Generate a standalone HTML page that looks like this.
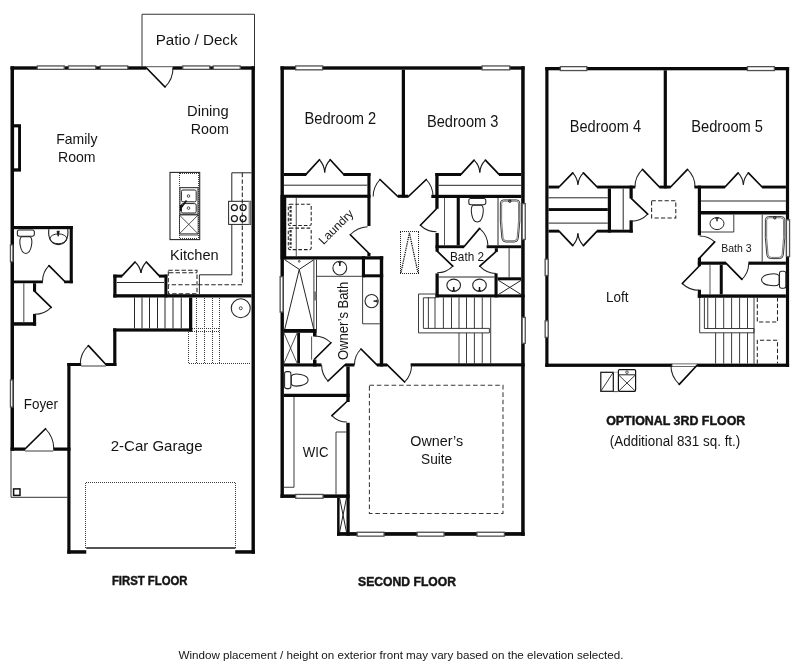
<!DOCTYPE html>
<html lang="en"><head><meta charset="utf-8"><title>Floor Plan</title>
<style>
html,body{margin:0;padding:0;background:#fff;}
body{width:800px;height:672px;overflow:hidden;font-family:"Liberation Sans",sans-serif;}
svg{display:block;will-change:transform;}
svg text{font-family:"Liberation Sans",sans-serif;}
</style></head><body>
<svg width="800" height="672" viewBox="0 0 800 672">
<rect width="800" height="672" fill="#fff"/>
<g id="first-floor">
<path d="M142 66.3V14.25H254.5V66.3" stroke="#333" stroke-width="1" fill="none"/>
<rect x="10.5" y="66.3" width="3.5" height="384.45" fill="#0a0a0a"/>
<rect x="10.5" y="66.3" width="26.5" height="3.4" fill="#0a0a0a"/>
<rect x="64.5" y="66.3" width="3.75" height="3.4" fill="#0a0a0a"/>
<rect x="96" y="66.3" width="4" height="3.4" fill="#0a0a0a"/>
<rect x="128" y="66.3" width="18.5" height="3.4" fill="#0a0a0a"/>
<rect x="172.5" y="66.3" width="10" height="3.4" fill="#0a0a0a"/>
<rect x="210" y="66.3" width="3" height="3.4" fill="#0a0a0a"/>
<rect x="240.5" y="66.3" width="14.5" height="3.4" fill="#0a0a0a"/>
<rect x="37.25" y="65.95" width="27" height="3.4" fill="#fff" stroke="#505050" stroke-width="1.3"/>
<rect x="68.5" y="65.95" width="27.25" height="3.4" fill="#fff" stroke="#505050" stroke-width="1.3"/>
<rect x="100.25" y="65.95" width="27.5" height="3.4" fill="#fff" stroke="#505050" stroke-width="1.3"/>
<rect x="182.75" y="65.95" width="27" height="3.4" fill="#fff" stroke="#505050" stroke-width="1.3"/>
<rect x="213.25" y="65.95" width="27" height="3.4" fill="#fff" stroke="#505050" stroke-width="1.3"/>
<rect x="251.5" y="66.3" width="3.4" height="487.4" fill="#0a0a0a"/>
<line x1="146.5" y1="66.7" x2="172.5" y2="66.7" stroke="#262626" stroke-width="0.8"/>
<path d="M165 87A26.52 26.52 0 0 0 173.02 68.00" stroke="#222" stroke-width="1.05" fill="none"/>
<line x1="146.5" y1="68" x2="165" y2="87" stroke="#0a0a0a" stroke-width="1.7" stroke-linecap="round"/>
<rect x="14" y="124.2" width="7" height="47.4" fill="#0a0a0a"/>
<rect x="14.1" y="127.4" width="4" height="40.9" fill="#fff"/>
<rect x="14" y="226" width="58.8" height="3.2" fill="#0a0a0a"/>
<rect x="69.7" y="226" width="3.1" height="57.25" fill="#0a0a0a"/>
<rect x="64.1" y="280.5" width="8.7" height="2.75" fill="#0a0a0a"/>
<rect x="14" y="280.5" width="28.9" height="2.75" fill="#0a0a0a"/>
<rect x="33" y="283.25" width="3.1" height="8.35" fill="#0a0a0a"/>
<rect x="33" y="313.9" width="3.1" height="11.8" fill="#0a0a0a"/>
<rect x="14" y="322.2" width="22.1" height="3.5" fill="#0a0a0a"/>
<line x1="23.8" y1="283.25" x2="23.8" y2="322.2" stroke="#555" stroke-width="1.1"/>
<rect x="10.45" y="244.95" width="2.5" height="16.8" fill="#fff" stroke="#505050" stroke-width="1.3"/>
<rect x="10.45" y="379.95" width="2.5" height="27.1" fill="#fff" stroke="#505050" stroke-width="1.3"/>
<path d="M49 265.6A21.71 21.71 0 0 0 42.59 281.00" stroke="#222" stroke-width="1.05" fill="none"/>
<line x1="64.3" y1="281" x2="49" y2="265.6" stroke="#0a0a0a" stroke-width="1.7" stroke-linecap="round"/>
<path d="M51.2 307.3A22.84 22.84 0 0 1 34.80 314.24" stroke="#222" stroke-width="1.05" fill="none"/>
<line x1="34.8" y1="291.4" x2="51.2" y2="307.3" stroke="#0a0a0a" stroke-width="1.7" stroke-linecap="round"/>
<g transform="translate(25.85 236.2) rotate(90)" fill="#fff" stroke="#222" stroke-width="1.05"><path d="M0.4 -4.3C3.10 -7.54 17.20 -5.80 17.2 0C17.20 5.80 3.10 7.54 0.4 4.3Z"/><rect x="-6.3" y="-8.5" width="6.3" height="17" rx="2"/></g>
<path d="M48.9 229.2C47.4 238 52 244.6 58.3 244.6C64.6 244.6 69.2 238 67.7 229.2" stroke="#262626" stroke-width="1.15" fill="none"/>
<ellipse cx="58.35" cy="238.8" rx="8.5" ry="4.9" stroke="#262626" stroke-width="1" fill="none"/>
<path d="M57 231.2H59.3L58.15 236.3Z" stroke="#111" stroke-width="0.8" fill="#111"/>
<rect x="113.3" y="274.6" width="8.9" height="3" fill="#0a0a0a"/>
<rect x="159" y="274.6" width="8.4" height="3" fill="#0a0a0a"/>
<rect x="113.3" y="274.6" width="3.2" height="22.9" fill="#0a0a0a"/>
<rect x="164.4" y="274.6" width="3" height="22.9" fill="#0a0a0a"/>
<rect x="113.3" y="294.2" width="138.3" height="3.3" fill="#0a0a0a"/>
<line x1="116.9" y1="282.5" x2="164" y2="282.5" stroke="#262626" stroke-width="1"/>
<line x1="122.3" y1="275.6" x2="135" y2="262" stroke="#0a0a0a" stroke-width="1.7" stroke-linecap="round"/>
<line x1="159" y1="275.6" x2="146.4" y2="262" stroke="#0a0a0a" stroke-width="1.7" stroke-linecap="round"/>
<path d="M135 262A18.61 18.61 0 0 1 141 273" stroke="#1a1a1a" stroke-width="1.15" fill="none"/>
<path d="M146.4 262A18.61 18.61 0 0 0 141 273" stroke="#1a1a1a" stroke-width="1.15" fill="none"/>
<line x1="134.5" y1="297.5" x2="134.5" y2="328.4" stroke="#262626" stroke-width="1"/>
<line x1="142" y1="297.5" x2="142" y2="328.4" stroke="#262626" stroke-width="1"/>
<line x1="149.5" y1="297.5" x2="149.5" y2="328.4" stroke="#262626" stroke-width="1"/>
<line x1="157.5" y1="297.5" x2="157.5" y2="328.4" stroke="#262626" stroke-width="1"/>
<line x1="165" y1="297.5" x2="165" y2="328.4" stroke="#262626" stroke-width="1"/>
<line x1="173" y1="297.5" x2="173" y2="328.4" stroke="#262626" stroke-width="1"/>
<line x1="181.25" y1="297.5" x2="181.25" y2="328.4" stroke="#262626" stroke-width="1"/>
<rect x="189" y="297.5" width="3.25" height="34.1" fill="#0a0a0a"/>
<rect x="113.2" y="328.4" width="79.05" height="3.2" fill="#0a0a0a"/>
<rect x="113.2" y="328.4" width="3.2" height="37.6" fill="#0a0a0a"/>
<rect x="67.3" y="363" width="13.9" height="3" fill="#0a0a0a"/>
<rect x="105.9" y="363" width="10.5" height="3" fill="#0a0a0a"/>
<rect x="67.3" y="363" width="3.2" height="190.7" fill="#0a0a0a"/>
<rect x="67.3" y="550.2" width="18.95" height="3.5" fill="#0a0a0a"/>
<rect x="235.2" y="550.2" width="19.7" height="3.5" fill="#0a0a0a"/>
<line x1="81.2" y1="366" x2="105.9" y2="366" stroke="#262626" stroke-width="0.9"/>
<path d="M88.4 345.7A25.68 25.68 0 0 0 80.22 364.50" stroke="#222" stroke-width="1.05" fill="none"/>
<line x1="105.9" y1="364.5" x2="88.4" y2="345.7" stroke="#0a0a0a" stroke-width="1.7" stroke-linecap="round"/>
<line x1="196.5" y1="298" x2="196.5" y2="363" stroke="#3a3a3a" stroke-width="1" stroke-dasharray="1 1"/>
<line x1="204.5" y1="298" x2="204.5" y2="363" stroke="#3a3a3a" stroke-width="1" stroke-dasharray="1 1"/>
<line x1="212.5" y1="298" x2="212.5" y2="363" stroke="#3a3a3a" stroke-width="1" stroke-dasharray="1 1"/>
<line x1="219.5" y1="298" x2="219.5" y2="363" stroke="#3a3a3a" stroke-width="1" stroke-dasharray="1 1"/>
<path d="M188.5 332V363.5H251" stroke="#3a3a3a" stroke-width="1" fill="none" stroke-dasharray="1 1"/>
<line x1="192" y1="328.5" x2="220" y2="328.5" stroke="#3a3a3a" stroke-width="1" stroke-dasharray="1 1"/>
<line x1="192" y1="331.5" x2="220" y2="331.5" stroke="#3a3a3a" stroke-width="1" stroke-dasharray="1 1"/>
<ellipse cx="240.75" cy="308.25" rx="9.5" ry="9.5" stroke="#262626" stroke-width="1.1" fill="none"/>
<ellipse cx="240.75" cy="308.25" rx="1.5" ry="1.5" stroke="#262626" stroke-width="0.8" fill="none"/>
<rect x="10.5" y="447.5" width="14.5" height="3.25" fill="#0a0a0a"/>
<rect x="53.25" y="447.5" width="17.25" height="3.25" fill="#0a0a0a"/>
<path d="M45.5 428.75A28.82 28.82 0 0 1 53.82 449.00" stroke="#222" stroke-width="1.05" fill="none"/>
<line x1="25" y1="449" x2="45.5" y2="428.75" stroke="#0a0a0a" stroke-width="1.7" stroke-linecap="round"/>
<line x1="25" y1="451" x2="53.25" y2="451" stroke="#262626" stroke-width="0.9"/>
<path d="M11 450.75V497.3H67.5" stroke="#333" stroke-width="1" fill="none"/>
<rect x="13.6" y="488.9" width="6.4" height="6.5" stroke="#111" stroke-width="1.5" fill="none"/>
<path d="M85.5 548V482.5H235.5V548" stroke="#3a3a3a" stroke-width="1" fill="none" stroke-dasharray="1 1"/>
<rect x="86.25" y="547.3" width="149.15" height="1.4" fill="#0a0a0a"/>
<rect x="170" y="172.4" width="29.7" height="67.2" stroke="#262626" stroke-width="1.1" fill="none"/>
<line x1="179.5" y1="173" x2="179.5" y2="239" stroke="#3a3a3a" stroke-width="1" stroke-dasharray="1 1"/>
<line x1="198.5" y1="173" x2="198.5" y2="239" stroke="#3a3a3a" stroke-width="1" stroke-dasharray="1 1"/>
<line x1="180" y1="173.5" x2="198" y2="173.5" stroke="#3a3a3a" stroke-width="1" stroke-dasharray="1 1"/>
<line x1="180" y1="238.5" x2="198" y2="238.5" stroke="#3a3a3a" stroke-width="1" stroke-dasharray="1 1"/>
<rect x="179.9" y="187.6" width="18.1" height="26.7" stroke="#444" stroke-width="1.2" fill="none"/>
<rect x="181.4" y="190" width="14.8" height="11.8" stroke="#262626" stroke-width="1" fill="none" rx="1.5"/>
<rect x="181.4" y="203.6" width="14.8" height="9.4" stroke="#262626" stroke-width="1" fill="none" rx="1.5"/>
<ellipse cx="188.5" cy="196" rx="1.3" ry="1.3" stroke="#262626" stroke-width="0.8" fill="none"/>
<ellipse cx="188.5" cy="208.1" rx="1.3" ry="1.3" stroke="#262626" stroke-width="0.8" fill="none"/>
<line x1="181.3" y1="207.5" x2="186.5" y2="200.6" stroke="#111" stroke-width="1.6"/>
<line x1="180.8" y1="205" x2="180.8" y2="211" stroke="#111" stroke-width="1.8"/>
<rect x="179.4" y="215" width="18.7" height="18.8" stroke="#262626" stroke-width="0.8" fill="none"/>
<line x1="179.4" y1="215" x2="198.1" y2="233.8" stroke="#262626" stroke-width="0.8"/>
<line x1="198.1" y1="215" x2="179.4" y2="233.8" stroke="#262626" stroke-width="0.8"/>
<line x1="179.4" y1="235" x2="198.1" y2="235" stroke="#262626" stroke-width="0.8"/>
<path d="M251.6 172.8H231.8V274.8H199.4V294.25" stroke="#262626" stroke-width="1" fill="none"/>
<rect x="228.6" y="201.3" width="22" height="23.1" stroke="#262626" stroke-width="1" fill="#fff"/>
<rect x="248.6" y="201.3" width="2" height="23.1" fill="#999"/>
<ellipse cx="234.4" cy="207.5" rx="3" ry="3" stroke="#1a1a1a" stroke-width="1.25" fill="none"/>
<ellipse cx="234.4" cy="218.5" rx="3" ry="3" stroke="#1a1a1a" stroke-width="1.25" fill="none"/>
<ellipse cx="243.1" cy="207.5" rx="3" ry="3" stroke="#1a1a1a" stroke-width="1.25" fill="none"/>
<ellipse cx="243.1" cy="218.5" rx="3" ry="3" stroke="#1a1a1a" stroke-width="1.25" fill="none"/>
<path d="M242.3 172.8V284.8H168.3" stroke="#222" stroke-width="1.05" fill="none" stroke-dasharray="4.4 2.2"/>
<rect x="168.3" y="270.3" width="28.7" height="23.5" stroke="#222" stroke-width="1.05" fill="none" stroke-dasharray="4.4 2.2"/>
<line x1="169" y1="272.8" x2="197" y2="272.8" stroke="#222" stroke-width="1.05" stroke-dasharray="4.4 2.2"/>
</g>
<text x="155.75" y="45" font-size="15.3" textLength="81.75" lengthAdjust="spacingAndGlyphs" fill="#141414">Patio / Deck</text>
<text x="56.2" y="143.6" font-size="15" textLength="41.3" lengthAdjust="spacingAndGlyphs" fill="#141414">Family</text>
<text x="58" y="161.5" font-size="15" textLength="37.6" lengthAdjust="spacingAndGlyphs" fill="#141414">Room</text>
<text x="187" y="116.25" font-size="15" textLength="41.75" lengthAdjust="spacingAndGlyphs" fill="#141414">Dining</text>
<text x="190.75" y="134.25" font-size="15" textLength="38" lengthAdjust="spacingAndGlyphs" fill="#141414">Room</text>
<text x="170" y="259.5" font-size="15" textLength="48.75" lengthAdjust="spacingAndGlyphs" fill="#141414">Kitchen</text>
<text x="23.75" y="409.25" font-size="15" textLength="34.25" lengthAdjust="spacingAndGlyphs" fill="#141414">Foyer</text>
<text x="110.75" y="450.75" font-size="15" textLength="91.75" lengthAdjust="spacingAndGlyphs" fill="#141414">2-Car Garage</text>
<text x="111.9" y="585.4" font-size="12.4" textLength="75.6" lengthAdjust="spacingAndGlyphs" font-weight="700" stroke="#141414" stroke-width="0.45" fill="#141414">FIRST FLOOR</text>
<g id="second-floor">
<rect x="280.5" y="66.3" width="3.4" height="431.6" fill="#0a0a0a"/>
<rect x="280.5" y="195" width="5.75" height="64.4" fill="#0a0a0a"/>
<rect x="280.5" y="66.3" width="244.1" height="3.4" fill="#0a0a0a"/>
<rect x="295.65" y="65.95" width="26.9" height="3.9" fill="#fff" stroke="#505050" stroke-width="1.3"/>
<rect x="482.05" y="65.95" width="27.7" height="3.9" fill="#fff" stroke="#505050" stroke-width="1.3"/>
<rect x="521.2" y="66.3" width="3.5" height="469.5" fill="#0a0a0a"/>
<rect x="337.1" y="532.1" width="187.6" height="3.7" fill="#0a0a0a"/>
<rect x="357.15" y="532.25" width="26.9" height="3.9" fill="#fff" stroke="#505050" stroke-width="1.3"/>
<rect x="417.15" y="532.25" width="26.9" height="3.9" fill="#fff" stroke="#505050" stroke-width="1.3"/>
<rect x="476.95" y="532.25" width="27.45" height="3.9" fill="#fff" stroke="#505050" stroke-width="1.3"/>
<rect x="280.5" y="494.4" width="69.2" height="3.5" fill="#0a0a0a"/>
<rect x="295.65" y="494.45" width="27.4" height="3.8" fill="#fff" stroke="#505050" stroke-width="1.3"/>
<rect x="337.1" y="497.9" width="2.5" height="37.9" fill="#0a0a0a"/>
<rect x="346.5" y="497.9" width="3.2" height="37.9" fill="#0a0a0a"/>
<line x1="339.6" y1="497.9" x2="346.5" y2="532.2" stroke="#222" stroke-width="1"/>
<line x1="346.5" y1="497.9" x2="339.6" y2="532.2" stroke="#222" stroke-width="1"/>
<rect x="401.75" y="69.7" width="3.25" height="127.8" fill="#0a0a0a"/>
<rect x="398" y="194.7" width="10.25" height="3.1" fill="#0a0a0a"/>
<rect x="283.9" y="173" width="22.35" height="3" fill="#0a0a0a"/>
<rect x="343.4" y="173" width="27.1" height="3" fill="#0a0a0a"/>
<rect x="367.4" y="173" width="3.1" height="53" fill="#0a0a0a"/>
<rect x="283.9" y="194.7" width="86.6" height="3.1" fill="#0a0a0a"/>
<line x1="283.9" y1="185.2" x2="367.4" y2="185.2" stroke="#262626" stroke-width="1"/>
<line x1="306" y1="174.3" x2="319.4" y2="159.75" stroke="#0a0a0a" stroke-width="1.7" stroke-linecap="round"/>
<line x1="343.6" y1="174.3" x2="330.25" y2="159.75" stroke="#0a0a0a" stroke-width="1.7" stroke-linecap="round"/>
<path d="M319.4 159.75A19.78 19.78 0 0 1 324.7 172.5" stroke="#1a1a1a" stroke-width="1.15" fill="none"/>
<path d="M330.25 159.75A19.78 19.78 0 0 0 324.7 172.5" stroke="#1a1a1a" stroke-width="1.15" fill="none"/>
<path d="M380 179.5A24.61 24.61 0 0 0 373.19 196.50" stroke="#222" stroke-width="1.05" fill="none"/>
<line x1="397.8" y1="196.5" x2="380" y2="179.5" stroke="#0a0a0a" stroke-width="1.7" stroke-linecap="round"/>
<path d="M426.25 179.5A24.65 24.65 0 0 1 433.05 196.50" stroke="#222" stroke-width="1.05" fill="none"/>
<line x1="408.4" y1="196.5" x2="426.25" y2="179.5" stroke="#0a0a0a" stroke-width="1.7" stroke-linecap="round"/>
<rect x="367.4" y="253" width="3.1" height="3.25" fill="#0a0a0a"/>
<rect x="283.9" y="256.25" width="99.3" height="3.25" fill="#0a0a0a"/>
<line x1="296.25" y1="197.8" x2="296.25" y2="256.25" stroke="#262626" stroke-width="0.8"/>
<rect x="288.3" y="204.2" width="22.9" height="21.4" stroke="#222" stroke-width="1.05" fill="none" stroke-dasharray="3.6 2" rx="1.5"/>
<rect x="288.3" y="228.1" width="22.9" height="21.5" stroke="#222" stroke-width="1.05" fill="none" stroke-dasharray="3.6 2" rx="1.5"/>
<line x1="290.6" y1="206" x2="290.6" y2="224" stroke="#333" stroke-width="2.2" stroke-dasharray="2.5 1.6"/>
<line x1="290.6" y1="230" x2="290.6" y2="248" stroke="#333" stroke-width="2.2" stroke-dasharray="2.5 1.6"/>
<path d="M350.25 234.75A26.98 26.98 0 0 1 367.54 226.84" stroke="#222" stroke-width="1.05" fill="none"/>
<line x1="369.4" y1="253.75" x2="350.25" y2="234.75" stroke="#0a0a0a" stroke-width="1.7" stroke-linecap="round"/>
<rect x="361.9" y="256.25" width="3.1" height="21.05" fill="#0a0a0a"/>
<rect x="361.9" y="274.3" width="21.3" height="3" fill="#0a0a0a"/>
<rect x="379.8" y="256.25" width="3.4" height="110.25" fill="#0a0a0a"/>
<path d="M284.8 259.8L299.25 269.4L313.7 259.8" stroke="#262626" stroke-width="1" fill="none"/>
<path d="M284.8 329L299.25 269.4L313.7 329" stroke="#262626" stroke-width="1" fill="none"/>
<ellipse cx="299.25" cy="261.3" rx="0.9" ry="0.9" stroke="#262626" stroke-width="0.8" fill="none"/>
<line x1="313.9" y1="259.5" x2="313.9" y2="329" stroke="#262626" stroke-width="0.9"/>
<line x1="316.5" y1="259.5" x2="316.5" y2="329" stroke="#262626" stroke-width="0.9"/>
<rect x="313.9" y="291.5" width="2.6" height="8.9" fill="#777"/>
<rect x="280.15" y="276.65" width="2.9" height="35.4" fill="#fff" stroke="#505050" stroke-width="1.3"/>
<line x1="316.5" y1="276.3" x2="361.9" y2="276.3" stroke="#262626" stroke-width="0.9"/>
<ellipse cx="339.8" cy="268.1" rx="6.9" ry="6.9" stroke="#262626" stroke-width="1.1" fill="none"/>
<line x1="339.8" y1="262.3" x2="339.8" y2="266" stroke="#111" stroke-width="1.5"/>
<line x1="338.3" y1="262.6" x2="341.3" y2="262.6" stroke="#111" stroke-width="1"/>
<path d="M362.6 277.3V323.8H379.8" stroke="#262626" stroke-width="0.9" fill="none"/>
<ellipse cx="371.6" cy="301.1" rx="6.6" ry="6.6" stroke="#262626" stroke-width="1.1" fill="none"/>
<line x1="377.2" y1="301.1" x2="373.6" y2="301.1" stroke="#111" stroke-width="1.5"/>
<line x1="377" y1="299.6" x2="377" y2="302.6" stroke="#111" stroke-width="1"/>
<rect x="283.9" y="329" width="32.6" height="3.8" fill="#0a0a0a"/>
<rect x="297.2" y="332.8" width="2.8" height="30.6" fill="#0a0a0a"/>
<rect x="313" y="329" width="3.5" height="7.5" fill="#0a0a0a"/>
<rect x="313" y="359.6" width="3.5" height="6.9" fill="#0a0a0a"/>
<line x1="283.9" y1="332.8" x2="297.2" y2="363.4" stroke="#262626" stroke-width="0.8"/>
<line x1="297.2" y1="332.8" x2="283.9" y2="363.4" stroke="#262626" stroke-width="0.8"/>
<line x1="311.6" y1="336.5" x2="311.6" y2="359.6" stroke="#262626" stroke-width="0.8"/>
<path d="M331 342.75A23.09 23.09 0 0 0 314.60 335.91" stroke="#222" stroke-width="1.05" fill="none"/>
<line x1="314.6" y1="359" x2="331" y2="342.75" stroke="#0a0a0a" stroke-width="1.7" stroke-linecap="round"/>
<rect x="283.9" y="363.4" width="37.6" height="3.1" fill="#0a0a0a"/>
<rect x="345" y="363.4" width="9.4" height="3.1" fill="#0a0a0a"/>
<rect x="376.9" y="363.4" width="10.3" height="3.1" fill="#0a0a0a"/>
<rect x="410.6" y="363.3" width="114" height="3.1" fill="#0a0a0a"/>
<path d="M328 381A23.41 23.41 0 0 1 321.59 364.90" stroke="#222" stroke-width="1.05" fill="none"/>
<line x1="345" y1="364.9" x2="328" y2="381" stroke="#0a0a0a" stroke-width="1.7" stroke-linecap="round"/>
<path d="M361 349A22.49 22.49 0 0 0 354.41 364.90" stroke="#222" stroke-width="1.05" fill="none"/>
<line x1="376.9" y1="364.9" x2="361" y2="349" stroke="#0a0a0a" stroke-width="1.7" stroke-linecap="round"/>
<path d="M404.6 382A24.40 24.40 0 0 0 411.60 364.90" stroke="#222" stroke-width="1.05" fill="none"/>
<line x1="387.2" y1="364.9" x2="404.6" y2="382" stroke="#0a0a0a" stroke-width="1.7" stroke-linecap="round"/>
<rect x="346.3" y="366.5" width="3.4" height="35.5" fill="#0a0a0a"/>
<rect x="346.3" y="422.8" width="3.4" height="75.1" fill="#0a0a0a"/>
<rect x="283.9" y="393.75" width="65.8" height="3.25" fill="#0a0a0a"/>
<g transform="translate(290.9 380.1) rotate(0)" fill="#fff" stroke="#222" stroke-width="1.05"><path d="M0.4 -4.3C3.10 -7.54 17.20 -5.80 17.2 0C17.20 5.80 3.10 7.54 0.4 4.3Z"/><rect x="-6.3" y="-8.5" width="6.3" height="17" rx="2"/></g>
<path d="M294 397V487.25H283.9" stroke="#262626" stroke-width="0.9" fill="none"/>
<path d="M346.3 432H336V494.4" stroke="#262626" stroke-width="0.9" fill="none"/>
<path d="M331.9 415.6A20.59 20.59 0 0 0 346.90 422.09" stroke="#222" stroke-width="1.05" fill="none"/>
<line x1="346.9" y1="401.5" x2="331.9" y2="415.6" stroke="#0a0a0a" stroke-width="1.7" stroke-linecap="round"/>
<rect x="369.4" y="385.3" width="133.6" height="128.1" stroke="#3a3a3a" stroke-width="1.05" fill="none" stroke-dasharray="4.6 2.8"/>
<rect x="435.3" y="173" width="25.7" height="3" fill="#0a0a0a"/>
<rect x="499" y="173" width="22.2" height="3" fill="#0a0a0a"/>
<rect x="435.3" y="173" width="3.3" height="35.75" fill="#0a0a0a"/>
<rect x="431.3" y="194.8" width="89.9" height="3.2" fill="#0a0a0a"/>
<line x1="438.6" y1="185.3" x2="521.2" y2="185.3" stroke="#262626" stroke-width="1"/>
<line x1="461" y1="174.3" x2="474.1" y2="160.2" stroke="#0a0a0a" stroke-width="1.7" stroke-linecap="round"/>
<line x1="499" y1="174.3" x2="485.4" y2="160.2" stroke="#0a0a0a" stroke-width="1.7" stroke-linecap="round"/>
<path d="M474.1 160.2A19.25 19.25 0 0 1 479.8 172.5" stroke="#1a1a1a" stroke-width="1.15" fill="none"/>
<path d="M485.4 160.2A19.25 19.25 0 0 0 479.8 172.5" stroke="#1a1a1a" stroke-width="1.15" fill="none"/>
<rect x="435.5" y="233" width="3.25" height="18.6" fill="#0a0a0a"/>
<rect x="435.5" y="273.4" width="3.25" height="24" fill="#0a0a0a"/>
<rect x="456.7" y="198" width="3.1" height="47.3" fill="#0a0a0a"/>
<line x1="444.5" y1="198" x2="444.5" y2="245.3" stroke="#262626" stroke-width="0.8"/>
<rect x="435.5" y="245.3" width="28.5" height="2.9" fill="#0a0a0a"/>
<rect x="486.6" y="245.3" width="34.6" height="2.9" fill="#0a0a0a"/>
<rect x="494.8" y="248.2" width="3.1" height="3.6" fill="#0a0a0a"/>
<rect x="494.5" y="273.4" width="3.1" height="24" fill="#0a0a0a"/>
<rect x="435.5" y="294.4" width="89.1" height="3" fill="#0a0a0a"/>
<path d="M420.4 225.25A23.05 23.05 0 0 0 436.50 231.80" stroke="#222" stroke-width="1.05" fill="none"/>
<line x1="436.5" y1="208.75" x2="420.4" y2="225.25" stroke="#0a0a0a" stroke-width="1.7" stroke-linecap="round"/>
<path d="M452.8 266.2A21.64 21.64 0 0 1 437.20 272.84" stroke="#222" stroke-width="1.05" fill="none"/>
<line x1="437.2" y1="251.2" x2="452.8" y2="266.2" stroke="#0a0a0a" stroke-width="1.7" stroke-linecap="round"/>
<path d="M479.6 228.4A24.05 24.05 0 0 1 488.05 246.70" stroke="#222" stroke-width="1.05" fill="none"/>
<line x1="464" y1="246.7" x2="479.6" y2="228.4" stroke="#0a0a0a" stroke-width="1.7" stroke-linecap="round"/>
<path d="M479.8 266.2A22.09 22.09 0 0 0 496.20 273.49" stroke="#222" stroke-width="1.05" fill="none"/>
<line x1="496.2" y1="251.4" x2="479.8" y2="266.2" stroke="#0a0a0a" stroke-width="1.7" stroke-linecap="round"/>
<line x1="438.75" y1="277" x2="494.5" y2="277" stroke="#262626" stroke-width="1"/>
<ellipse cx="453.7" cy="285.2" rx="6.8" ry="6.1" stroke="#262626" stroke-width="1.1" fill="none"/>
<line x1="453.7" y1="287" x2="453.7" y2="291.5" stroke="#111" stroke-width="1.5"/>
<path d="M452.09999999999997 292L453.7 289.5L455.3 292" stroke="#111" stroke-width="0.9" fill="none"/>
<ellipse cx="479.5" cy="285.2" rx="6.8" ry="6.1" stroke="#262626" stroke-width="1.1" fill="none"/>
<line x1="479.5" y1="287" x2="479.5" y2="291.5" stroke="#111" stroke-width="1.5"/>
<path d="M477.9 292L479.5 289.5L481.1 292" stroke="#111" stroke-width="0.9" fill="none"/>
<line x1="509.1" y1="248.2" x2="509.1" y2="277.3" stroke="#262626" stroke-width="0.9"/>
<rect x="497.6" y="277.3" width="23.6" height="3" fill="#0a0a0a"/>
<line x1="498.4" y1="280.3" x2="521.2" y2="294.5" stroke="#262626" stroke-width="1"/>
<line x1="521.2" y1="280.3" x2="498.4" y2="294.5" stroke="#262626" stroke-width="1"/>
<g transform="translate(477.3 204.8) rotate(90)" fill="#fff" stroke="#222" stroke-width="1.05"><path d="M0.4 -4.3C3.10 -7.54 17.20 -5.80 17.2 0C17.20 5.80 3.10 7.54 0.4 4.3Z"/><rect x="-6.3" y="-8.5" width="6.3" height="17" rx="2"/></g>
<line x1="498" y1="198" x2="498" y2="245.3" stroke="#262626" stroke-width="1"/>
<path d="M503.5 199.9H516.7Q519.6 199.9 519.8 203.0Q520.7 221.0 518.3 238.5Q517.8 242.0 514.5 242.0H505.7Q502.4 242.0 501.9 238.5Q499.5 221.0 500.4 203.0Q500.6 199.9 503.5 199.9Z" stroke="#262626" stroke-width="0.9" fill="none"/>
<path d="M504.2 201.2H516.0Q518.3 201.2 518.5 203.5Q519.3 221.0 517.1 238.0Q516.7 240.7 514.0 240.7H506.2Q503.5 240.7 503.1 238.0Q500.9 221.0 501.7 203.5Q501.9 201.2 504.2 201.2Z" stroke="#444" stroke-width="0.7" fill="none"/>
<ellipse cx="509.8" cy="201.2" rx="1.2" ry="1.2" stroke="#111" stroke-width="1" fill="none"/>
<rect x="522.15" y="203.65" width="3.1" height="35.8" fill="#fff" stroke="#505050" stroke-width="1.3"/>
<rect x="522.15" y="317.45" width="3.1" height="25.9" fill="#fff" stroke="#505050" stroke-width="1.3"/>
<line x1="400" y1="231.5" x2="419" y2="231.5" stroke="#222" stroke-width="1" stroke-dasharray="1 1"/>
<line x1="400" y1="273.5" x2="419" y2="273.5" stroke="#222" stroke-width="1" stroke-dasharray="1 1"/>
<line x1="400.5" y1="232" x2="400.5" y2="273" stroke="#222" stroke-width="1" stroke-dasharray="1 1"/>
<line x1="418.5" y1="232" x2="418.5" y2="273" stroke="#222" stroke-width="1" stroke-dasharray="1 1"/>
<path d="M401 272.5L409.4 233L417.9 272.5" stroke="#111" stroke-width="1.25" fill="none" stroke-dasharray="1.3 0.9"/>
<path d="M436 294H418.5V332.9H489.4" stroke="#262626" stroke-width="0.9" fill="none"/>
<path d="M436 297.8H423.4V328.4H489.4V332.9" stroke="#262626" stroke-width="0.9" fill="none"/>
<line x1="428.4" y1="297.4" x2="428.4" y2="328.4" stroke="#262626" stroke-width="0.9"/>
<line x1="435" y1="297.4" x2="435" y2="328.4" stroke="#262626" stroke-width="0.9"/>
<line x1="443.4" y1="297.4" x2="443.4" y2="328.4" stroke="#262626" stroke-width="0.9"/>
<line x1="451.5" y1="297.4" x2="451.5" y2="328.4" stroke="#262626" stroke-width="0.9"/>
<line x1="459" y1="297.4" x2="459" y2="328.4" stroke="#262626" stroke-width="0.9"/>
<line x1="466.5" y1="297.4" x2="466.5" y2="328.4" stroke="#262626" stroke-width="0.9"/>
<line x1="474.4" y1="297.4" x2="474.4" y2="328.4" stroke="#262626" stroke-width="0.9"/>
<line x1="482.25" y1="297.4" x2="482.25" y2="328.4" stroke="#262626" stroke-width="0.9"/>
<line x1="459" y1="332.9" x2="459" y2="363.4" stroke="#262626" stroke-width="0.9"/>
<line x1="466.5" y1="332.9" x2="466.5" y2="363.4" stroke="#262626" stroke-width="0.9"/>
<line x1="474.4" y1="332.9" x2="474.4" y2="363.4" stroke="#262626" stroke-width="0.9"/>
<line x1="482.25" y1="332.9" x2="482.25" y2="363.4" stroke="#262626" stroke-width="0.9"/>
<line x1="490.7" y1="297.4" x2="490.7" y2="363.4" stroke="#262626" stroke-width="0.9"/>
</g>
<text x="304.5" y="123.75" font-size="15.6" textLength="71.75" lengthAdjust="spacingAndGlyphs" fill="#141414">Bedroom 2</text>
<text x="427" y="127.25" font-size="15.6" textLength="71.4" lengthAdjust="spacingAndGlyphs" fill="#141414">Bedroom 3</text>
<text x="323.6" y="245.2" font-size="12" textLength="43.5" lengthAdjust="spacingAndGlyphs" transform="rotate(-45 323.6 245.2)" fill="#141414">Laundry</text>
<text x="348" y="360" font-size="14" textLength="78.2" lengthAdjust="spacingAndGlyphs" transform="rotate(-90 348 360)" fill="#141414">Owner’s Bath</text>
<text x="450" y="260.8" font-size="12.8" textLength="34" lengthAdjust="spacingAndGlyphs" fill="#141414">Bath 2</text>
<text x="302.8" y="457.25" font-size="15" textLength="25.7" lengthAdjust="spacingAndGlyphs" fill="#141414">WIC</text>
<text x="410.25" y="446" font-size="14.5" textLength="52.85" lengthAdjust="spacingAndGlyphs" fill="#141414">Owner’s</text>
<text x="421" y="464.3" font-size="14.5" textLength="31.25" lengthAdjust="spacingAndGlyphs" fill="#141414">Suite</text>
<text x="358.1" y="585.6" font-size="12.4" textLength="97.9" lengthAdjust="spacingAndGlyphs" font-weight="700" stroke="#141414" stroke-width="0.45" fill="#141414">SECOND FLOOR</text>
<g id="third-floor">
<rect x="545.3" y="67" width="3.2" height="299.9" fill="#0a0a0a"/>
<rect x="545.15" y="259.15" width="3" height="16.4" fill="#fff" stroke="#505050" stroke-width="1.3"/>
<rect x="545.15" y="320.85" width="3" height="16.5" fill="#fff" stroke="#505050" stroke-width="1.3"/>
<rect x="545.3" y="67" width="243.8" height="3.3" fill="#0a0a0a"/>
<rect x="560.35" y="66.65" width="26.5" height="3.9" fill="#fff" stroke="#505050" stroke-width="1.3"/>
<rect x="747.45" y="66.65" width="26.9" height="3.9" fill="#fff" stroke="#505050" stroke-width="1.3"/>
<rect x="785.9" y="67" width="3.2" height="299.9" fill="#0a0a0a"/>
<rect x="786.45" y="219.85" width="3.1" height="36.7" fill="#fff" stroke="#505050" stroke-width="1.3"/>
<rect x="545.3" y="363.6" width="126.7" height="3.3" fill="#0a0a0a"/>
<rect x="697.3" y="363.6" width="91.8" height="3.3" fill="#0a0a0a"/>
<rect x="672" y="363.9" width="25.3" height="2.7" stroke="#444" stroke-width="0.8" fill="#fff"/>
<path d="M679.25 384.3A26.43 26.43 0 0 1 670.87 365.00" stroke="#222" stroke-width="1.05" fill="none"/>
<line x1="697.3" y1="365" x2="679.25" y2="384.3" stroke="#0a0a0a" stroke-width="1.7" stroke-linecap="round"/>
<rect x="663.7" y="70.3" width="3.2" height="118.1" fill="#0a0a0a"/>
<rect x="659.4" y="185.6" width="11.2" height="2.9" fill="#0a0a0a"/>
<rect x="548.5" y="185.6" width="10.5" height="2.9" fill="#0a0a0a"/>
<rect x="597.1" y="185.6" width="38.2" height="2.9" fill="#0a0a0a"/>
<rect x="548.5" y="208.1" width="59.3" height="2.9" fill="#0a0a0a"/>
<rect x="548.5" y="229.7" width="10.5" height="2.9" fill="#0a0a0a"/>
<rect x="597.1" y="229.7" width="35.65" height="2.9" fill="#0a0a0a"/>
<rect x="607.8" y="188.4" width="3.2" height="44.2" fill="#0a0a0a"/>
<rect x="629.5" y="185.6" width="3.25" height="12.8" fill="#0a0a0a"/>
<rect x="629.5" y="220.3" width="3.25" height="12.3" fill="#0a0a0a"/>
<line x1="548.5" y1="197.8" x2="607.8" y2="197.8" stroke="#262626" stroke-width="1"/>
<line x1="548.5" y1="223.1" x2="607.8" y2="223.1" stroke="#262626" stroke-width="1"/>
<line x1="623.2" y1="188.5" x2="623.2" y2="229.7" stroke="#262626" stroke-width="1"/>
<line x1="559" y1="187" x2="572.75" y2="172.9" stroke="#0a0a0a" stroke-width="1.7" stroke-linecap="round"/>
<line x1="597.1" y1="187" x2="583.4" y2="172.9" stroke="#0a0a0a" stroke-width="1.7" stroke-linecap="round"/>
<path d="M572.75 172.9A19.69 19.69 0 0 1 577.9 184.7" stroke="#1a1a1a" stroke-width="1.15" fill="none"/>
<path d="M583.4 172.9A19.69 19.69 0 0 0 577.9 184.7" stroke="#1a1a1a" stroke-width="1.15" fill="none"/>
<line x1="559" y1="231.2" x2="572.75" y2="245.6" stroke="#0a0a0a" stroke-width="1.7" stroke-linecap="round"/>
<line x1="597.1" y1="231.2" x2="583.4" y2="245.6" stroke="#0a0a0a" stroke-width="1.7" stroke-linecap="round"/>
<path d="M572.75 245.6A19.91 19.91 0 0 0 577.9 233.4" stroke="#1a1a1a" stroke-width="1.15" fill="none"/>
<path d="M583.4 245.6A19.91 19.91 0 0 1 577.9 233.4" stroke="#1a1a1a" stroke-width="1.15" fill="none"/>
<path d="M647.75 214.1A22.78 22.78 0 0 1 631.25 221.18" stroke="#222" stroke-width="1.05" fill="none"/>
<line x1="631.25" y1="198.4" x2="647.75" y2="214.1" stroke="#0a0a0a" stroke-width="1.7" stroke-linecap="round"/>
<path d="M642.5 169.3A24.47 24.47 0 0 0 634.93 187.00" stroke="#222" stroke-width="1.05" fill="none"/>
<line x1="659.4" y1="187" x2="642.5" y2="169.3" stroke="#0a0a0a" stroke-width="1.7" stroke-linecap="round"/>
<path d="M687.5 169.3A24.47 24.47 0 0 1 695.07 187.00" stroke="#222" stroke-width="1.05" fill="none"/>
<line x1="670.6" y1="187" x2="687.5" y2="169.3" stroke="#0a0a0a" stroke-width="1.7" stroke-linecap="round"/>
<rect x="651.6" y="200.7" width="24.2" height="17.2" stroke="#222" stroke-width="1.05" fill="none" stroke-dasharray="4.2 2.3"/>
<rect x="694.4" y="185.6" width="30.6" height="2.9" fill="#0a0a0a"/>
<rect x="762.1" y="185.6" width="23.8" height="2.9" fill="#0a0a0a"/>
<rect x="697.8" y="185.6" width="3.2" height="49.7" fill="#0a0a0a"/>
<rect x="701" y="211" width="84.9" height="3.5" fill="#0a0a0a"/>
<line x1="701" y1="201" x2="785.9" y2="201" stroke="#262626" stroke-width="1"/>
<line x1="725" y1="187" x2="738.1" y2="172.9" stroke="#0a0a0a" stroke-width="1.7" stroke-linecap="round"/>
<line x1="762.1" y1="187" x2="748.4" y2="172.9" stroke="#0a0a0a" stroke-width="1.7" stroke-linecap="round"/>
<path d="M738.1 172.9A19.25 19.25 0 0 1 743.4 184.7" stroke="#1a1a1a" stroke-width="1.15" fill="none"/>
<path d="M748.4 172.9A19.25 19.25 0 0 0 743.4 184.7" stroke="#1a1a1a" stroke-width="1.15" fill="none"/>
<path d="M733.8 214.5V232H701" stroke="#262626" stroke-width="0.9" fill="none"/>
<ellipse cx="717" cy="223.6" rx="7" ry="6" stroke="#262626" stroke-width="1" fill="none"/>
<line x1="717" y1="217.5" x2="717" y2="221.2" stroke="#222" stroke-width="1.5"/>
<line x1="715.2" y1="218" x2="718.8" y2="218" stroke="#222" stroke-width="1.2"/>
<line x1="762.2" y1="214.5" x2="762.2" y2="261.6" stroke="#262626" stroke-width="0.9"/>
<path d="M768.5 216.6H781.7Q784.6 216.6 784.8 219.7Q785.7 237.7 783.3 255.2Q782.8 258.6 779.5 258.6H770.7Q767.4 258.6 766.9 255.2Q764.5 237.7 765.4 219.7Q765.6 216.6 768.5 216.6Z" stroke="#262626" stroke-width="0.9" fill="none"/>
<path d="M769.2 217.8H781.0Q783.3 217.8 783.5 220.2Q784.3 237.7 782.1 254.7Q781.7 257.4 779.0 257.4H771.2Q768.5 257.4 768.1 254.7Q765.9 237.7 766.7 220.2Q766.9 217.8 769.2 217.8Z" stroke="#444" stroke-width="0.7" fill="none"/>
<ellipse cx="774.8" cy="217.8" rx="1.2" ry="1.2" stroke="#111" stroke-width="1" fill="none"/>
<rect x="697.8" y="257.8" width="3.2" height="8.45" fill="#0a0a0a"/>
<rect x="697.8" y="289.7" width="3.2" height="8.05" fill="#0a0a0a"/>
<rect x="697.8" y="261.6" width="28.2" height="3.15" fill="#0a0a0a"/>
<rect x="748.4" y="261.6" width="37.5" height="3.15" fill="#0a0a0a"/>
<rect x="719.75" y="264.75" width="3" height="29.65" fill="#0a0a0a"/>
<rect x="697.8" y="294.4" width="88.1" height="3.35" fill="#0a0a0a"/>
<line x1="710" y1="264.75" x2="710" y2="294.4" stroke="#262626" stroke-width="0.8"/>
<path d="M714.7 241.9A21.86 21.86 0 0 0 699.70 235.94" stroke="#222" stroke-width="1.05" fill="none"/>
<line x1="699.7" y1="257.8" x2="714.7" y2="241.9" stroke="#0a0a0a" stroke-width="1.7" stroke-linecap="round"/>
<path d="M741.9 279.4A22.70 22.70 0 0 0 748.70 263.20" stroke="#222" stroke-width="1.05" fill="none"/>
<line x1="726" y1="263.2" x2="741.9" y2="279.4" stroke="#0a0a0a" stroke-width="1.7" stroke-linecap="round"/>
<path d="M682.25 283.5A24.04 24.04 0 0 0 699.00 290.29" stroke="#222" stroke-width="1.05" fill="none"/>
<line x1="699" y1="266.25" x2="682.25" y2="283.5" stroke="#0a0a0a" stroke-width="1.7" stroke-linecap="round"/>
<g transform="translate(779.5 279.8) rotate(180)" fill="#fff" stroke="#222" stroke-width="1.05"><path d="M0.4 -4.3C3.24 -7.54 18.00 -5.80 18 0C18.00 5.80 3.24 7.54 0.4 4.3Z"/><rect x="-6.3" y="-8.5" width="6.3" height="17" rx="2"/></g>
<path d="M699.7 297.75V332.8H754" stroke="#262626" stroke-width="0.9" fill="none"/>
<path d="M704.4 297.75V328.5H754V332.8" stroke="#262626" stroke-width="0.9" fill="none"/>
<line x1="707.75" y1="297.75" x2="707.75" y2="328.5" stroke="#262626" stroke-width="0.9"/>
<line x1="715.6" y1="297.75" x2="715.6" y2="328.5" stroke="#262626" stroke-width="0.9"/>
<line x1="723.7" y1="297.75" x2="723.7" y2="328.5" stroke="#262626" stroke-width="0.9"/>
<line x1="731.6" y1="297.75" x2="731.6" y2="328.5" stroke="#262626" stroke-width="0.9"/>
<line x1="739.6" y1="297.75" x2="739.6" y2="328.5" stroke="#262626" stroke-width="0.9"/>
<line x1="747.5" y1="297.75" x2="747.5" y2="328.5" stroke="#262626" stroke-width="0.9"/>
<line x1="715.6" y1="332.8" x2="715.6" y2="363.6" stroke="#262626" stroke-width="0.9"/>
<line x1="723.7" y1="332.8" x2="723.7" y2="363.6" stroke="#262626" stroke-width="0.9"/>
<line x1="731.6" y1="332.8" x2="731.6" y2="363.6" stroke="#262626" stroke-width="0.9"/>
<line x1="739.6" y1="332.8" x2="739.6" y2="363.6" stroke="#262626" stroke-width="0.9"/>
<line x1="747.5" y1="332.8" x2="747.5" y2="363.6" stroke="#262626" stroke-width="0.9"/>
<line x1="754" y1="297.75" x2="754" y2="363.6" stroke="#262626" stroke-width="0.9"/>
<path d="M757.3 297.75V322H777.5V297.75" stroke="#222" stroke-width="1.05" fill="none" stroke-dasharray="4.2 2.3"/>
<path d="M757.3 363.6V340.3H777.5V363.6" stroke="#222" stroke-width="1.05" fill="none" stroke-dasharray="4.2 2.3"/>
<rect x="600.8" y="372.3" width="12.5" height="19" stroke="#111" stroke-width="1.2" fill="none"/>
<line x1="600.8" y1="391.3" x2="613.3" y2="372.3" stroke="#262626" stroke-width="0.9"/>
<line x1="613.3" y1="391.6" x2="618.4" y2="391.6" stroke="#262626" stroke-width="0.8"/>
<line x1="613.3" y1="372.3" x2="618.4" y2="372.3" stroke="#888" stroke-width="0.6"/>
<rect x="618.4" y="369.6" width="17.2" height="21.7" stroke="#111" stroke-width="1.2" fill="none" rx="1.2"/>
<line x1="618.4" y1="374.8" x2="635.6" y2="374.8" stroke="#262626" stroke-width="1"/>
<ellipse cx="627" cy="372.2" rx="1.3" ry="1.3" stroke="#262626" stroke-width="0.8" fill="none"/>
<line x1="618.4" y1="374.8" x2="635.6" y2="391.3" stroke="#262626" stroke-width="0.9"/>
<line x1="635.6" y1="374.8" x2="618.4" y2="391.3" stroke="#262626" stroke-width="0.9"/>
</g>
<text x="569.75" y="131.6" font-size="15.6" textLength="71.25" lengthAdjust="spacingAndGlyphs" fill="#141414">Bedroom 4</text>
<text x="691.25" y="131.6" font-size="15.6" textLength="71.75" lengthAdjust="spacingAndGlyphs" fill="#141414">Bedroom 5</text>
<text x="721.2" y="251.7" font-size="11.6" textLength="30.4" lengthAdjust="spacingAndGlyphs" fill="#141414">Bath 3</text>
<text x="606" y="301.6" font-size="15" textLength="22.4" lengthAdjust="spacingAndGlyphs" fill="#141414">Loft</text>
<text x="606.2" y="424.75" font-size="12.4" textLength="139.1" lengthAdjust="spacingAndGlyphs" font-weight="700" stroke="#141414" stroke-width="0.45" fill="#141414">OPTIONAL 3RD FLOOR</text>
<text x="609.8" y="446.1" font-size="14" textLength="130.5" lengthAdjust="spacingAndGlyphs" fill="#141414">(Additional 831 sq. ft.)</text>
<text x="178.4" y="658.6" font-size="11.4" textLength="445.1" lengthAdjust="spacingAndGlyphs" fill="#141414">Window placement / height on exterior front may vary based on the elevation selected.</text>
</svg>
</body></html>
